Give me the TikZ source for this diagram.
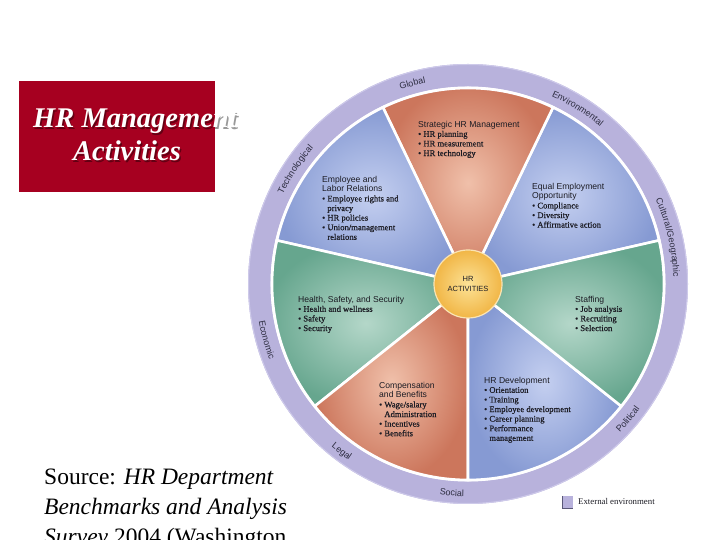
\documentclass[tikz,border=0pt]{standalone}
\usepackage{fontspec}
\setmainfont{Liberation Serif}
\newfontfamily\hrsans{Liberation Sans}
\newfontfamily\hrserif[FakeBold=0.6]{Liberation Serif}
\usetikzlibrary{decorations.text}
\definecolor{hrred}{RGB}{166,0,32}
\definecolor{ringfill}{RGB}{184,178,220}
\definecolor{ringedge}{RGB}{206,202,234}
\definecolor{ringdark}{RGB}{90,88,120}
\definecolor{salIn}{RGB}{240,192,170}
\definecolor{salOut}{RGB}{204,118,92}
\definecolor{bluIn}{RGB}{196,207,240}
\definecolor{bluOut}{RGB}{134,154,211}
\definecolor{grnIn}{RGB}{180,215,201}
\definecolor{grnOut}{RGB}{102,166,142}
\definecolor{sunIn}{RGB}{252,226,150}
\definecolor{sunOut}{RGB}{241,182,70}
\definecolor{sunEdge}{RGB}{250,228,180}
\definecolor{txt}{RGB}{28,28,36}
\definecolor{ringtxt}{RGB}{45,45,65}
\newcommand\hrbul{\textbullet\ }
\newcommand\hrind{\hphantom{\textbullet\ }}
\newcommand\ringfont{\hrsans\fontsize{9}{10}\selectfont}
\begin{document}
\begin{tikzpicture}[x=1pt,y=1pt,
  sector/.style={draw=white,line width=2.6pt},
  salsec/.style={sector,inner color=salIn,outer color=salOut},
  blusec/.style={sector,inner color=bluIn,outer color=bluOut},
  grnsec/.style={sector,inner color=grnIn,outer color=grnOut},
  sectxt/.style={anchor=north west,align=left,inner sep=0pt,text=txt,font=\hrserif\fontsize{8.6}{9.6}\selectfont},
  ringlbl/.style={decorate,decoration={text along path,text align=center,text color=ringtxt,text={|\ringfont|#1}}},
  titletxt/.style={anchor=base west,inner sep=0pt,font=\fontsize{28.5}{32}\selectfont\bfseries\itshape}
]
\useasboundingbox (0,0) rectangle (720,540);
\clip (0,0) rectangle (720,540);

% title box
\fill[hrred] (19,348) rectangle (215,459);
\node[titletxt,text=black,opacity=0.4] (t1s) at (34.5,410.5) {HR Management};
\node[titletxt,text=white] (t1) at (33,412) {HR Management};
\node[titletxt,text=black,opacity=0.4] (t2s) at (74.5,377.5) {Activities};
\node[titletxt,text=white] (t2) at (73,379) {Activities};

% wheel
\begin{scope}[shift={(468,256)}]
\coordinate (C) at (0,0);
\fill[ringfill] (C) circle[radius=220];
\draw[ringedge,line width=1pt] (C) circle[radius=219.5];
\fill[white] (C) circle[radius=197.5];

\shadedraw[blusec] (C) -- (12.857:196) arc[start angle=12.857,end angle=64.286,radius=196] -- cycle;
\shadedraw[salsec] (C) -- (64.286:196) arc[start angle=64.286,end angle=115.714,radius=196] -- cycle;
\shadedraw[blusec] (C) -- (115.714:196) arc[start angle=115.714,end angle=167.143,radius=196] -- cycle;
\shadedraw[grnsec] (C) -- (167.143:196) arc[start angle=167.143,end angle=218.571,radius=196] -- cycle;
\shadedraw[salsec] (C) -- (218.571:196) arc[start angle=218.571,end angle=270,radius=196] -- cycle;
\shadedraw[blusec] (C) -- (270:196) arc[start angle=270,end angle=321.429,radius=196] -- cycle;
\shadedraw[grnsec] (C) -- (321.429:196) arc[start angle=321.429,end angle=372.857,radius=196] -- cycle;

\shadedraw[inner color=sunIn,outer color=sunOut,draw=sunEdge,line width=1.2pt] (C) circle[radius=34];
\node[font=\hrsans\fontsize{7.5}{10}\selectfont,align=center,text=txt] (core) at (C) {HR\\ACTIVITIES};

% ring labels
\path[ringlbl=Technological] (176:205.5) arc[start angle=176,end angle=117,radius=205.5];
\path[ringlbl=Global] (134.5:205.5) arc[start angle=134.5,end angle=76.5,radius=205.5];
\path[ringlbl=Environmental] (88:205.5) arc[start angle=88,end angle=28,radius=205.5];
\path[ringlbl=Cultural/Geographic] (43:205.5) arc[start angle=43,end angle=-17,radius=205.5];
\path[ringlbl=Economic] (165.5:212.5) arc[start angle=165.5,end angle=225.5,radius=212.5];
\path[ringlbl=Legal] (203:212.5) arc[start angle=203,end angle=263,radius=212.5];
\path[ringlbl=Social] (235.6:212.5) arc[start angle=235.6,end angle=295.6,radius=212.5];
\path[ringlbl=Political] (289.8:212.5) arc[start angle=289.8,end angle=349.8,radius=212.5];
\end{scope}

% sector texts
\node[sectxt] (shrm) at (418,419.7) {\strut{\hrsans Strategic HR Management}\\\hrbul HR planning\\\hrbul HR measurement\\\hrbul HR technology};
\node[sectxt] (elr) at (322,364.7) {\strut{\hrsans Employee and}\\{\hrsans Labor Relations}\\\hrbul Employee rights and\\\hrind privacy\\\hrbul HR policies\\\hrbul Union/management\\\hrind relations};
\node[sectxt] (eeo) at (532,357.7) {\strut{\hrsans Equal Employment}\\{\hrsans Opportunity}\\\hrbul Compliance\\\hrbul Diversity\\\hrbul Affirmative action};
\node[sectxt] (hss) at (298,244.7) {\strut{\hrsans Health, Safety, and Security}\\\hrbul Health and wellness\\\hrbul Safety\\\hrbul Security};
\node[sectxt] (stf) at (575,244.7) {\strut{\hrsans Staffing}\\\hrbul Job analysis\\\hrbul Recruiting\\\hrbul Selection};
\node[sectxt] (cab) at (379,158.7) {\strut{\hrsans Compensation}\\{\hrsans and Benefits}\\\hrbul Wage/salary\\\hrind Administration\\\hrbul Incentives\\\hrbul Benefits};
\node[sectxt] (hrd) at (484,163.7) {\strut{\hrsans HR Development}\\\hrbul Orientation\\\hrbul Training\\\hrbul Employee development\\\hrbul Career planning\\\hrbul Performance\\\hrind management};

% legend
\fill[ringfill] (562,32) rectangle (573,44);
\draw[ringdark,line width=0.8pt] (562,44) -- (562,32) -- (573,32);
\node[anchor=base west,inner sep=0pt,font=\fontsize{8.8}{10}\selectfont,text=txt] (leg) at (578,35) {External environment};

% source
\node[anchor=north west,align=left,inner sep=0pt,font=\fontsize{23.5}{30}\selectfont] (src) at (44,77) {\strut Source: \textit{HR Department}\\\textit{Benchmarks and Analysis}\\\textit{Survey} 2004 (Washington,};
\end{tikzpicture}
\end{document}
